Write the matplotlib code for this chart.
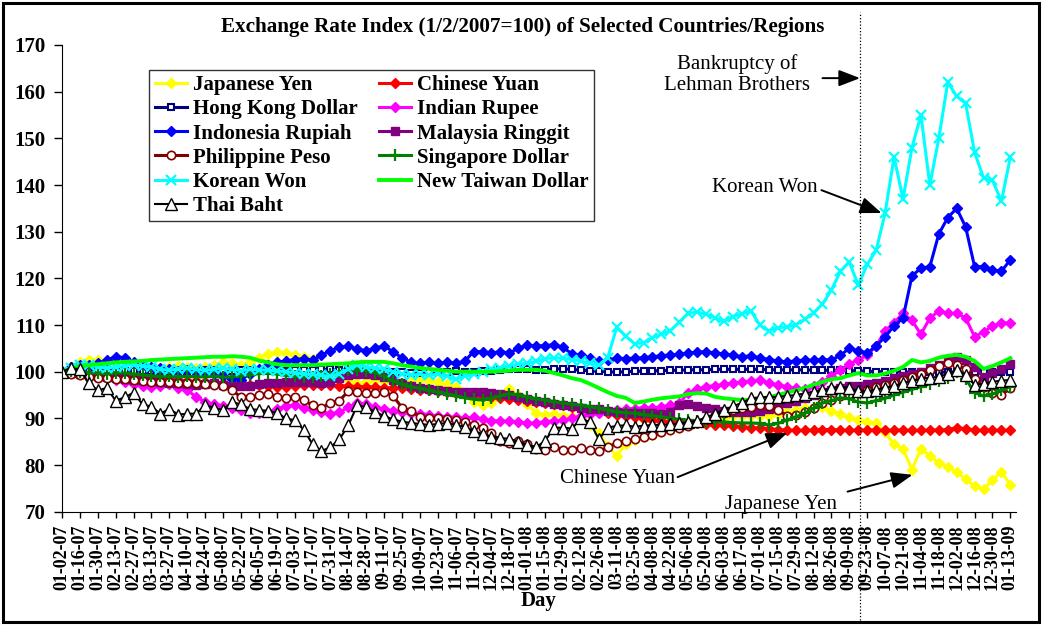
import matplotlib
matplotlib.use("Agg")
import matplotlib.pyplot as plt
import numpy as np
from matplotlib.patches import Rectangle

plt.rcParams['font.family'] = ['Liberation Serif', 'DejaVu Serif']

# category axis: one category per business day, labels every 10 days
tick_labels = [
    "01-02-07", "01-16-07", "01-30-07", "02-13-07", "02-27-07", "03-13-07",
    "03-27-07", "04-10-07", "04-24-07", "05-08-07", "05-22-07", "06-05-07",
    "06-19-07", "07-03-07", "07-17-07", "07-31-07", "08-14-07", "08-28-07",
    "09-11-07", "09-25-07", "10-09-07", "10-23-07", "11-06-07", "11-20-07",
    "12-04-07", "12-18-07",
    "01-01-08", "01-15-08", "01-29-08", "02-12-08", "02-26-08", "03-11-08",
    "03-25-08", "04-08-08", "04-22-08", "05-06-08", "05-20-08", "06-03-08",
    "06-17-08", "07-01-08", "07-15-08", "07-29-08", "08-12-08", "08-26-08",
    "09-09-08", "09-23-08", "10-07-08", "10-21-08", "11-04-08", "11-18-08",
    "12-02-08", "12-16-08", "12-30-08",
    "01-13-09",
]
tick_step = 10      # business days between labels
week_step = 5       # values below are read once per week
lehman_day = 446    # business-day index of the Lehman bankruptcy line

japanese_yen = [
    100, 101.0, 102.0, 102.5, 102.6, 102.3, 102.0, 99.5, 98.0, 98.0,
    99.0, 100.5, 101.0, 101.2, 101.0, 100.8, 101.0, 101.5, 102.0, 101.8,
    101.5, 102.0, 103.0, 103.8, 104.2, 104.0, 103.6, 103.2, 102.8, 101.0,
    100.0, 99.0, 98.5, 97.6, 97.8, 98.2, 98.0, 97.8, 97.6, 97.8,
    98.4, 98.0, 97.8, 97.3, 96.8, 95.5, 93.4, 92.8, 93.2, 94.6,
    96.2, 95.0, 93.0, 91.2, 90.8, 91.0, 90.6, 90.4, 90.0, 88.6,
    86.8, 84.0, 82.0, 84.5, 85.4, 86.0, 86.5, 87.0, 87.4, 88.0,
    88.6, 89.0, 89.4, 89.6, 90.0, 90.4, 90.6, 90.4, 90.4, 90.6,
    91.0, 91.4, 91.8, 92.2, 92.5, 92.4, 91.6, 91.0, 90.2, 89.6,
    89.3, 89.0, 87.0, 84.5, 83.5, 79.0, 83.5, 82.0, 80.5, 79.5,
    78.5, 77.0, 75.5, 74.8, 76.8, 78.5, 75.8,
]
chinese_yuan = [
    100, 100.0, 99.9, 99.8, 99.7, 99.5, 99.4, 99.3, 99.1, 99.0,
    98.8, 98.6, 98.4, 98.2, 98.0, 97.9, 97.8, 97.6, 97.5, 97.4,
    97.3, 97.2, 97.1, 97.0, 96.8, 96.8, 97.0, 97.2, 97.2, 97.1,
    97.1, 97.0, 96.9, 96.8, 96.8, 96.7, 96.6, 96.5, 96.4, 96.3,
    96.1, 96.0, 95.8, 95.6, 95.5, 95.3, 95.1, 94.8, 94.5, 94.3,
    94.1, 93.9, 93.7, 93.5, 93.3, 93.1, 92.8, 92.5, 92.2, 91.8,
    91.5, 91.1, 90.8, 90.5, 90.2, 89.9, 89.6, 89.4, 89.3, 89.2,
    89.0, 88.9, 88.7, 88.6, 88.5, 88.3, 88.2, 88.0, 87.9, 87.8,
    87.6, 87.5, 87.4, 87.4, 87.5, 87.6, 87.6, 87.5, 87.4, 87.5,
    87.5, 87.5, 87.4, 87.5, 87.5, 87.4, 87.4, 87.5, 87.5, 87.6,
    88.0, 87.8, 87.5, 87.4, 87.5, 87.4, 87.5,
]
hong_kong_dollar = [
    100, 100.1, 100.1, 100.2, 100.2, 100.3, 100.3, 100.2, 100.2, 100.1,
    100.1, 100.1, 100.0, 100.1, 100.2, 100.2, 100.3, 100.3, 100.2, 100.2,
    100.3, 100.3, 100.2, 100.2, 100.3, 100.2, 100.3, 100.4, 100.4, 100.5,
    100.5, 100.4, 100.3, 100.2, 100.1, 100.1, 100.0, 99.9, 99.9, 99.8,
    99.8, 99.9, 99.9, 100.0, 100.1, 100.0, 100.0, 100.1, 100.2, 100.4,
    100.6, 100.6, 100.5, 100.4, 100.4, 100.6, 100.6, 100.5, 100.3, 100.2,
    100.1, 100.0, 99.9, 100.0, 100.1, 100.1, 100.2, 100.2, 100.3, 100.3,
    100.4, 100.4, 100.4, 100.5, 100.5, 100.5, 100.5, 100.5, 100.5, 100.4,
    100.4, 100.4, 100.4, 100.4, 100.3, 100.3, 100.3, 100.3, 100.2, 100.2,
    100.1, 100.0, 100.0, 100.0, 99.9, 99.9, 99.9, 99.9, 99.9, 99.9,
    99.9, 99.9, 99.9, 100.0, 99.9, 99.9, 100.0,
]
indian_rupee = [
    100, 99.7, 99.5, 99.3, 99.0, 98.8, 98.2, 97.8, 97.3, 97.0,
    96.8, 97.0, 97.3, 96.5, 96.0, 94.6, 93.5, 93.0, 92.6, 92.3,
    91.8, 91.2, 91.1, 91.3, 92.0, 92.6, 92.8, 92.3, 91.8, 91.4,
    91.0, 91.3, 92.4, 93.3, 93.0, 92.4, 92.0, 91.6, 91.3, 91.2,
    91.0, 90.8, 90.5, 90.3, 90.2, 90.0, 90.2, 89.8, 89.5, 89.4,
    89.4, 89.2, 89.0, 89.0, 89.3, 89.5, 89.6, 90.0, 90.5, 91.0,
    91.2, 91.5, 91.8, 92.0, 92.1, 92.3, 92.2, 92.5, 92.8, 93.2,
    95.5, 96.3, 96.8, 97.0, 97.3, 97.6, 97.8, 98.0, 98.2, 97.6,
    97.2, 96.8, 96.4, 96.2, 97.0, 97.8, 99.0, 100.4, 101.6, 102.6,
    103.5, 105.5, 108.8, 110.5, 112.5, 111.0, 108.0, 111.5, 113.0, 112.5,
    112.5, 111.5, 107.5, 108.5, 109.8, 110.5, 110.4,
]
indonesia_rupiah = [
    100, 101.0, 101.5, 101.5, 101.8, 102.5, 103.2, 103.0, 102.0, 101.5,
    101.0, 100.8, 100.5, 100.2, 100.3, 100.0, 99.8, 99.5, 99.0, 98.5,
    98.3, 99.5, 100.5, 101.5, 102.0, 102.3, 102.6, 102.8, 102.5, 103.5,
    104.5, 105.2, 105.5, 104.8, 104.5, 105.0, 105.6, 104.2, 103.0, 102.0,
    101.8, 102.0, 101.8, 102.0, 101.8, 102.2, 104.3, 104.3, 104.0, 104.3,
    104.0, 105.0, 105.7, 105.5, 105.6, 105.8, 105.2, 103.8, 103.5, 103.0,
    102.2, 102.5, 102.9, 102.8, 102.9, 103.0, 103.2, 103.4, 103.6, 103.7,
    104.0, 104.2, 104.3, 104.0, 103.8, 103.5, 103.2, 103.4, 103.0, 102.6,
    102.3, 102.1, 102.3, 102.5, 102.4, 102.6, 102.5, 103.5, 105.0, 104.5,
    104.0, 105.5, 107.5, 109.8, 111.5, 120.5, 122.2, 122.5, 129.5, 133.0,
    135.0, 131.0, 122.5, 122.5, 121.8, 121.5, 124.0,
]
malaysia_ringgit = [
    100, 99.8, 99.6, 99.2, 99.0, 98.8, 98.6, 98.5, 98.3, 98.2,
    98.0, 97.8, 97.6, 97.5, 97.3, 97.2, 97.4, 97.5, 97.2, 97.0,
    96.9, 97.0, 97.3, 97.5, 97.6, 97.7, 97.8, 97.8, 97.8, 97.6,
    97.8, 98.6, 99.3, 99.5, 99.6, 99.2, 98.8, 98.2, 97.6, 97.0,
    96.6, 96.3, 96.1, 95.9, 95.7, 95.6, 95.7, 95.6, 95.4, 95.2,
    94.9, 94.5, 94.1, 93.7, 93.4, 93.1, 92.9, 92.6, 92.3, 92.1,
    91.9, 91.6, 91.3, 91.1, 91.1, 91.2, 91.1, 91.0, 91.4, 92.8,
    93.0, 92.6, 92.2, 91.9, 91.6, 91.4, 91.3, 91.4, 91.6, 92.0,
    92.6, 93.2, 93.8, 94.4, 95.0, 95.6, 96.1, 96.5, 97.0, 97.0,
    97.3, 97.6, 98.0, 98.6, 99.0, 99.4, 100.0, 100.8, 101.4, 102.3,
    103.2, 102.5, 101.0, 98.8, 99.8, 100.6, 101.6,
]
philippine_peso = [
    100, 99.5, 99.2, 98.9, 98.7, 98.6, 98.4, 98.5, 98.3, 98.0,
    97.8, 97.7, 97.7, 97.6, 97.6, 97.6, 97.4, 97.2, 97.0, 96.1,
    94.5, 94.6, 95.0, 95.3, 94.6, 94.4, 94.6, 93.9, 92.8, 92.2,
    93.3, 93.8, 95.8, 95.6, 95.4, 95.4, 95.7, 94.8, 92.3, 91.6,
    90.3, 90.1, 90.0, 89.8, 89.6, 89.2, 88.6, 88.0, 86.8, 85.2,
    84.7, 85.2, 84.5, 83.5, 83.2, 83.8, 83.3, 83.3, 83.6, 83.2,
    82.9, 83.8, 84.7, 85.2, 85.5, 85.9, 86.4, 87.0, 87.5, 88.0,
    88.4, 89.0, 89.6, 90.4, 91.2, 91.8, 92.3, 92.5, 92.8, 92.6,
    91.8, 90.6, 90.8, 91.3, 92.2, 93.3, 94.0, 94.8, 95.3, 95.5,
    96.0, 96.8, 97.2, 97.6, 98.3, 98.9, 99.6, 100.4, 101.2, 101.8,
    101.5, 100.5, 98.5, 96.8, 95.5, 95.0, 96.5,
]
singapore_dollar = [
    100, 100.2, 100.0, 99.8, 99.7, 99.6, 99.8, 99.7, 99.5, 99.3,
    99.1, 99.0, 99.0, 98.9, 99.0, 98.9, 98.9, 99.0, 98.8, 98.9,
    99.1, 99.3, 99.6, 99.7, 99.5, 99.2, 99.0, 98.9, 98.9, 99.0,
    99.4, 100.0, 100.4, 100.3, 100.2, 99.8, 99.0, 98.0, 97.3, 96.8,
    96.4, 96.0, 95.6, 95.2, 94.8, 94.4, 94.1, 93.9, 94.3, 94.8,
    95.3, 95.0, 94.6, 94.2, 93.9, 93.6, 93.3, 93.0, 92.8, 92.5,
    92.2, 91.8, 91.4, 91.2, 91.1, 90.8, 90.6, 90.3, 90.0, 89.8,
    89.6, 89.5, 89.3, 89.3, 89.2, 89.1, 89.0, 89.0, 88.9, 88.6,
    88.9, 89.6, 90.3, 91.1, 92.2, 93.3, 93.8, 94.4, 94.2, 93.5,
    93.3, 93.8, 94.3, 95.0, 95.6, 96.2, 96.8, 97.4, 98.0, 98.6,
    100.0, 98.5, 95.5, 94.8, 95.2, 96.0, 96.8,
]
korean_won = [
    100, 100.8, 101.5, 101.5, 101.0, 100.8, 101.0, 101.3, 101.5, 101.2,
    101.0, 100.5, 100.3, 100.6, 100.8, 100.5, 100.3, 100.5, 100.8, 100.5,
    100.2, 100.5, 100.4, 100.3, 100.2, 100.0, 99.8, 99.5, 99.4, 99.2,
    99.0, 99.6, 100.5, 101.5, 101.0, 100.8, 100.5, 100.0, 99.6, 99.3,
    99.4, 99.2, 99.5, 99.0, 98.4, 99.0, 99.4, 100.0, 100.5, 100.8,
    101.3, 101.6, 101.8, 102.2, 102.8, 103.0, 102.9, 102.6, 102.3, 101.8,
    101.4, 103.0, 109.5, 107.6, 106.0, 106.2, 107.3, 108.0, 108.8, 110.6,
    112.5, 112.8, 112.3, 111.5, 110.8, 111.8, 112.4, 113.0, 110.0, 108.7,
    109.4, 109.6, 110.0, 111.2, 112.6, 114.5, 117.5, 121.5, 123.5, 118.5,
    123.0, 126.0, 134.0, 146.0, 137.0, 148.0, 155.0, 140.0, 150.0, 162.0,
    159.0, 157.5, 147.0, 141.5, 141.0, 136.5, 146.0,
]
new_taiwan_dollar = [
    100, 100.6, 101.2, 101.4, 101.6, 101.8, 102.0, 102.1, 102.2, 102.3,
    102.5, 102.6, 102.7, 102.8, 102.9, 103.0, 103.1, 103.2, 103.2, 103.3,
    103.2, 103.0, 102.4, 102.0, 101.6, 101.4, 101.4, 101.4, 101.4, 101.5,
    101.6, 101.7, 101.8, 102.0, 102.1, 102.1, 102.1, 101.8, 101.4, 101.1,
    100.8, 100.6, 100.4, 100.2, 100.0, 100.0, 100.0, 100.0, 100.0, 100.1,
    100.2, 100.4, 100.4, 100.4, 100.2, 99.7, 99.2, 98.6, 98.2, 97.4,
    96.5, 95.6, 94.8, 94.4, 93.3, 93.6, 94.0, 94.3, 94.5, 94.7,
    95.2, 95.4, 95.3, 94.6, 94.3, 94.1, 93.9, 94.0, 94.2, 94.5,
    95.0, 95.5, 96.0, 96.5, 97.2, 97.8, 98.4, 98.6, 99.2, 99.7,
    99.2, 99.2, 99.6, 100.2, 101.0, 102.5, 102.0, 102.3, 103.0, 103.4,
    103.6, 103.2, 102.3, 100.6, 101.2, 102.0, 102.9,
]
thai_baht = [
    100, 100.8, 100.5, 97.5, 96.0, 96.5, 93.8, 94.5, 95.5, 93.0,
    92.5, 91.0, 92.0, 90.8, 91.0, 91.0, 92.8, 92.3, 91.8, 93.5,
    93.0, 92.0, 91.8, 91.6, 91.2, 90.0, 89.6, 87.6, 84.5, 83.0,
    83.8, 85.5, 88.5, 92.8, 92.4, 91.4, 90.5, 89.8, 89.3, 89.0,
    88.8, 88.6, 88.8, 89.0, 88.6, 88.2, 87.3, 86.6, 86.1, 85.8,
    85.6, 85.0, 84.3, 83.8, 85.2, 88.0, 88.0, 87.8, 90.0, 89.2,
    85.5, 88.0, 88.4, 88.5, 88.2, 88.4, 88.6, 88.6, 88.7, 88.9,
    89.2, 89.5, 90.2, 91.0, 91.8, 92.6, 93.3, 94.3, 94.5, 94.6,
    94.6, 94.8, 95.0, 95.3, 95.7, 96.0, 96.4, 96.8, 96.5, 95.8,
    95.8, 96.1, 96.6, 96.9, 97.6, 98.0, 98.5, 98.7, 98.9, 99.5,
    100.3, 99.3, 97.2, 97.4, 97.8, 98.1, 98.2,
]

# series in Excel order (last one drawn on top)
series = [
    ("Japanese Yen", japanese_yen, dict(color="#FFFF00", marker="D", ms=5.5)),
    ("Chinese Yuan", chinese_yuan, dict(color="#FF0000", marker="D", ms=5.5)),
    ("Hong Kong Dollar", hong_kong_dollar,
     dict(color="#000080", marker="s", ms=5, mfc="white", mew=1.5)),
    ("Indian Rupee", indian_rupee, dict(color="#FF00FF", marker="D", ms=5.5)),
    ("Indonesia Rupiah", indonesia_rupiah, dict(color="#0000FF", marker="D", ms=5.5)),
    ("Malaysia Ringgit", malaysia_ringgit, dict(color="#800080", marker="s", ms=6)),
    ("Philippine Peso", philippine_peso,
     dict(color="#800000", marker="o", ms=6, mfc="white", mew=1.2)),
    ("Singapore Dollar", singapore_dollar,
     dict(color="#008000", marker="+", ms=8, mew=1.6)),
    ("Korean Won", korean_won, dict(color="#00FFFF", marker="x", ms=7, mew=1.6)),
    ("New Taiwan Dollar", new_taiwan_dollar, dict(color="#00FF00", lw=2.8)),
    ("Thai Baht", thai_baht,
     dict(color="black", marker="^", ms=8, mfc="white", mew=1.0, lw=1.5)),
]

fig = plt.figure(figsize=(10.42, 6.25), dpi=100)
ax = fig.add_axes([0.0595, 0.1813, 0.9153, 0.7467])

x = np.arange(len(japanese_yen)) * week_step
handles = {}
for name, values, style in series:
    kw = dict(lw=2.2)
    kw.update(style)
    if "mec" not in kw and "marker" in kw:
        kw["mec"] = kw["color"]
    line, = ax.plot(x, values, label=name, **kw)
    handles[name] = line

ax.set_xlim(0, 533)
ax.set_ylim(70, 170)
ax.set_yticks(np.arange(70, 171, 10))
ax.set_xticks(np.arange(len(tick_labels)) * tick_step)
ax.set_xticklabels(tick_labels, rotation=90, fontweight="bold", fontsize=13)
for lab in ax.get_yticklabels():
    lab.set_fontweight("bold")
    lab.set_fontsize(15)
ax.tick_params(axis="x", direction="out", length=4, width=1, pad=5)
ax.tick_params(axis="y", direction="out", length=6, width=1, pad=6)
for side in ("top", "right"):
    ax.spines[side].set_visible(False)
ax.set_xlabel("Day", fontweight="bold", fontsize=15, labelpad=1)

# Lehman line crosses the whole figure
ax.axvline(lehman_day, ymin=-0.232, ymax=1.071, clip_on=False,
           color="black", lw=0.9, ls=(0, (1, 1.6)))

order = ["Japanese Yen", "Hong Kong Dollar", "Indonesia Rupiah",
         "Philippine Peso", "Korean Won", "Thai Baht",
         "Chinese Yuan", "Indian Rupee", "Malaysia Ringgit",
         "Singapore Dollar", "New Taiwan Dollar"]
leg = ax.legend([handles[n] for n in order], order, ncol=2,
                loc="upper left", bbox_to_anchor=(0.0916, 0.9465),
                borderaxespad=0, prop=dict(weight="bold", size=15),
                frameon=True, fancybox=False, handlelength=1.55,
                handletextpad=0.3, columnspacing=1.0, labelspacing=0.2,
                borderpad=0.25)
leg.get_frame().set_edgecolor("black")
leg.get_frame().set_linewidth(1.0)

arrow = dict(arrowstyle="-|>,head_length=0.65,head_width=0.25",
             mutation_scale=20, color="black", lw=1.4, shrinkA=0, shrinkB=0)
note = dict(fontsize=15, ha="center", va="center")
ax.text(377.5, 163.7, "Bankruptcy of\nLehman Brothers", linespacing=1.1, **note)
ax.annotate("", xy=(lehman_day, 162.9), xytext=(425, 162.9), arrowprops=arrow)
ax.text(392.5, 139.5, "Korean Won", **note)
ax.annotate("", xy=(458, 134.0), xytext=(424.4, 138.9), arrowprops=arrow,
            annotation_clip=False)
ax.text(310.4, 77.2, "Chinese Yuan", **note)
ax.annotate("", xy=(405.4, 86.9), xytext=(344, 77.4), arrowprops=arrow)
ax.text(402, 71.6, "Japanese Yen", **note)
ax.annotate("", xy=(475.3, 77.9), xytext=(439, 74.3), arrowprops=arrow)

fig.text(0.502, 0.957, "Exchange Rate Index (1/2/2007=100) of Selected Countries/Regions",
         fontsize=15.2, fontweight="bold", ha="center", va="center")

fig.patches.append(Rectangle((0.0029, 0.0048), 0.9942, 0.990, transform=fig.transFigure,
                             fill=False, edgecolor="black", lw=2.2))

fig.savefig("out.png", dpi=100)
